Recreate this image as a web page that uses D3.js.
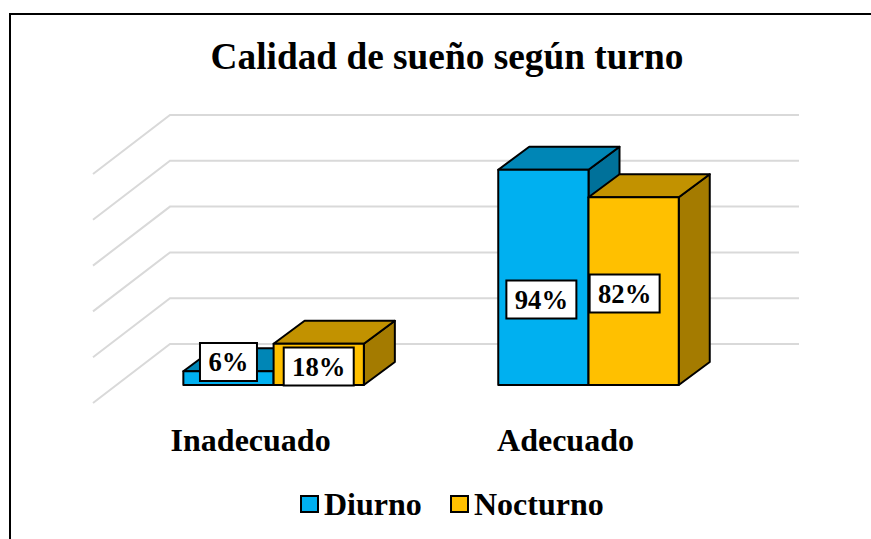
<!DOCTYPE html>
<html>
<head>
<meta charset="utf-8">
<script src="https://cdn.jsdelivr.net/npm/d3@7/dist/d3.min.js"></script>
<style>
  body { margin: 0; background: #fff; }
  svg { display: block; }
  text { font-family: "Liberation Serif", serif; font-weight: bold; fill: #000; }
</style>
</head>
<body>
<div id="chart"></div>
<script>
// Data
var categories = ['Inadecuado', 'Adecuado'];
var series = ['Diurno', 'Nocturno'];
var diurno = [6, 94];
var nocturno = [18, 82];
var gridTicks = [0, 20, 40, 60, 80, 100];

// Layout
var svgW = 871, svgH = 539;
var base = 385;          // front floor of the bars
var depth = { x: 31, y: 23 };  // bar depth
var wall = { x: 77, y: 41 };   // back wall offset from bars' floor
var front = 18;                // grid runs this far below the bars' floor
var colors = {
  Diurno: { front: '#00B0F0', top: '#0086B6', side: '#00719A' },
  Nocturno: { front: '#FFC000', top: '#C29200', side: '#A47B00' }
};
// dragged data labels, offset from the middle of the bar's width / from floor
var labelNudge = {
  Diurno: [{ dx: 0, y: 362 }, { dx: -2, y: 299.5 }],
  Nocturno: [{ dx: 0, y: 366.5 }, { dx: -9, y: 293.5 }]
};
var labelW = [57, 70];

var svg = d3.select('#chart').append('svg')
  .attr('width', svgW)
  .attr('height', svgH);

// Outer frame, runs off the picture at right and bottom
svg.append('path')
  .attr('d', 'M10,' + svgH + 'V14H' + svgW)
  .attr('fill', 'none')
  .attr('stroke', '#000')
  .attr('stroke-width', 2);

// Scales
var x0 = d3.scalePoint().domain(categories).range([273.6, 588.5]);
var x1 = d3.scaleBand().domain(series).range([-90.25, 90.25]);
var y = d3.scaleLinear().domain([0, 100]).range([base, base - 229]);

// Grid
svg.append('g').selectAll('path')
  .data(gridTicks)
  .enter()
  .append('path')
  .attr('d', function (d) {
    var yBack = y(d) - wall.y;
    return 'M93,' + (yBack + wall.y + front) + 'L170,' + yBack + 'H799';
  })
  .attr('fill', 'none')
  .attr('stroke', '#D9D9D9')
  .attr('stroke-width', 2);

// Bars
var rows = [];
categories.forEach(function (c, i) {
  rows.push({ cat: c, i: i, s: 'Diurno', v: diurno[i] });
  rows.push({ cat: c, i: i, s: 'Nocturno', v: nocturno[i] });
});

var bars = svg.append('g').selectAll('g')
  .data(rows)
  .enter()
  .append('g')
  .attr('stroke', '#000')
  .attr('stroke-width', 2)
  .attr('stroke-linejoin', 'round');

function xL(d) { return x0(d.cat) + x1(d.s); }
function xR(d) { return xL(d) + x1.bandwidth(); }

bars.append('path')
  .attr('fill', function (d) { return colors[d.s].side; })
  .attr('d', function (d) {
    return 'M' + xR(d) + ',' + base + 'V' + y(d.v) +
      'l' + depth.x + ',' + (-depth.y) + 'V' + (base - depth.y) + 'Z';
  });
bars.append('path')
  .attr('fill', function (d) { return colors[d.s].top; })
  .attr('d', function (d) {
    return 'M' + xL(d) + ',' + y(d.v) + 'l' + depth.x + ',' + (-depth.y) +
      'H' + (xR(d) + depth.x) + 'L' + xR(d) + ',' + y(d.v) + 'Z';
  });
bars.append('rect')
  .attr('fill', function (d) { return colors[d.s].front; })
  .attr('x', xL)
  .attr('y', function (d) { return y(d.v); })
  .attr('width', x1.bandwidth())
  .attr('height', function (d) { return base - y(d.v); });

// Data labels
var labels = svg.append('g').selectAll('g')
  .data(rows)
  .enter()
  .append('g')
  .attr('transform', function (d) {
    var n = labelNudge[d.s][d.i];
    return 'translate(' + (xL(d) + x1.bandwidth() / 2 + n.dx) + ',' + n.y + ')';
  });
labels.append('rect')
  .attr('x', function (d) { return -(d.v < 10 ? labelW[0] : labelW[1]) / 2; })
  .attr('y', -19)
  .attr('width', function (d) { return d.v < 10 ? labelW[0] : labelW[1]; })
  .attr('height', 38)
  .attr('fill', '#fff')
  .attr('stroke', '#000')
  .attr('stroke-width', 2);
labels.append('text')
  .attr('text-anchor', 'middle')
  .attr('y', 9)
  .attr('font-size', 26.67)
  .text(function (d) { return d.v + '%'; });

// Title
svg.append('text')
  .attr('x', 447)
  .attr('y', 69)
  .attr('text-anchor', 'middle')
  .attr('font-size', 37.33)
  .text('Calidad de sueño según turno');

// Category axis
var xAxis = d3.axisBottom(x0).tickSize(0).tickPadding(0);
var axisG = svg.append('g')
  .attr('transform', 'translate(-23.5,0)')
  .call(xAxis);
axisG.select('.domain').remove();
axisG.selectAll('text')
  .attr('y', 451)
  .attr('dy', 0)
  .style('font-family', '"Liberation Serif", serif')
  .style('font-weight', 'bold')
  .style('font-size', '32px');

// Legend
var legendX = [301, 451];
var legend = svg.append('g').selectAll('g')
  .data(series)
  .enter()
  .append('g')
  .attr('transform', function (d, i) { return 'translate(' + legendX[i] + ',496)'; });
legend.append('rect')
  .attr('width', 17)
  .attr('height', 16)
  .attr('fill', function (d) { return colors[d].front; })
  .attr('stroke', '#000')
  .attr('stroke-width', 2);
legend.append('text')
  .attr('x', 23)
  .attr('y', 19)
  .attr('font-size', 32)
  .text(function (d) { return d; });
</script>
</body>
</html>
